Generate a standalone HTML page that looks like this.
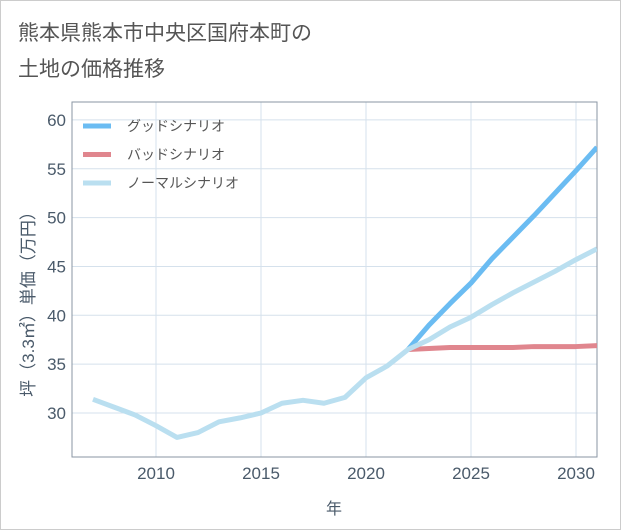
<!DOCTYPE html>
<html><head><meta charset="utf-8"><style>
body{margin:0;background:#fff;font-family:"Liberation Sans","Noto Sans CJK JP",sans-serif;}
#wrap{position:relative;width:619px;height:528px;border:1px solid #ccc;}
</style></head><body>
<div id="wrap">
<svg id="c" width="621" height="530" style="position:absolute;left:-1px;top:-1px">
<text x="18" y="40" font-size="21" fill="#555">熊本県熊本市中央区国府本町の</text>
<text x="18" y="76" font-size="21" fill="#555">土地の価格推移</text>
<g id="grid"></g><g id="series"></g><g id="legend"></g>
</svg></div>
<script>
const years=[2007,2008,2009,2010,2011,2012,2013,2014,2015,2016,2017,2018,2019,2020,2021,2022,2023,2024,2025,2026,2027,2028,2029,2030,2031];
const normalVals=[31.4,30.6,29.8,28.7,27.5,28.0,29.1,29.5,30.0,31.0,31.3,31.0,31.6,33.6,34.8,36.5,37.5,38.8,39.8,41.1,42.3,43.4,44.5,45.7,46.8];
const futureYears=[2022,2023,2024,2025,2026,2027,2028,2029,2030,2031];
const goodVals=[36.5,39.0,41.2,43.3,45.8,48.0,50.2,52.5,54.8,57.2];
const badVals=[36.5,36.6,36.7,36.7,36.7,36.7,36.8,36.8,36.8,36.9];
const yTicks=[30,35,40,45,50,55,60];
const xTicks=[2010,2015,2020,2025,2030];
const NS="http://www.w3.org/2000/svg";
const L=72,R=597,T=102,B=457;
const x=v=>156+(v-2010)*21;
const y=v=>413-(v-30)*9.77;
function mk(tag,attrs,parent){const e=document.createElementNS(NS,tag);for(const k in attrs)e.setAttribute(k,attrs[k]);parent.appendChild(e);return e;}
const g=document.getElementById('grid'),s=document.getElementById('series'),lg=document.getElementById('legend');
yTicks.forEach(t=>{const l=mk('line',{x1:L,x2:R,y1:y(t),y2:y(t),stroke:'#d5e1ec','stroke-width':1},g);

const tx=mk('text',{x:L-6,y:y(t)+6,'text-anchor':'end','font-size':17,fill:'#4a5a6a'},g);tx.textContent=t;
});
xTicks.forEach(t=>{const l=mk('line',{x1:x(t),x2:x(t),y1:T,y2:B,stroke:'#d5e1ec','stroke-width':1},g);

const tx=mk('text',{x:x(t),y:B+22,'text-anchor':'middle','font-size':17,fill:'#4a5a6a'},g);tx.textContent=t;
});
const fr=mk('rect',{x:L,y:T,width:R-L,height:B-T,fill:'none',stroke:'#8a96a3','stroke-width':1},g);

const xt=mk('text',{x:334,y:514,'text-anchor':'middle','font-size':16,fill:'#4a5a6a'},g);xt.textContent='年';

const yt=mk('text',{x:0,y:0,'text-anchor':'middle','font-size':17,fill:'#4a5a6a',transform:'translate(34,300) rotate(-90)'},g);yt.textContent='坪（3.3㎡）単価（万円）';

const clip=mk('clipPath',{id:'cp'},s);mk('rect',{x:L,y:T,width:R-L,height:B-T},clip);
function line(xs,vs,col,name){const p=mk('polyline',{points:xs.map((a,i)=>x(a)+','+y(vs[i])).join(' '),fill:'none',stroke:col,'stroke-width':5,'stroke-linejoin':'round','clip-path':'url(#cp)'},s);
}
line(futureYears,goodVals,'#6bbcf2','good-scenario-line');
line(futureYears,badVals,'#e0868e','bad-scenario-line');
line(years,normalVals,'#badff0','normal-scenario-line');
[['グッドシナリオ','#6bbcf2','legend-good'],['バッドシナリオ','#e0868e','legend-bad'],['ノーマルシナリオ','#badff0','legend-normal']].forEach((d,i)=>{
const yy=126+i*28.5;const gg=mk('g',{},lg);
mk('line',{x1:83,x2:111,y1:yy,y2:yy,stroke:d[1],'stroke-width':5},gg);
const t=mk('text',{x:127,y:yy+5,'font-size':14,fill:'#555'},gg);t.textContent=d[0];});
</script></body></html>
